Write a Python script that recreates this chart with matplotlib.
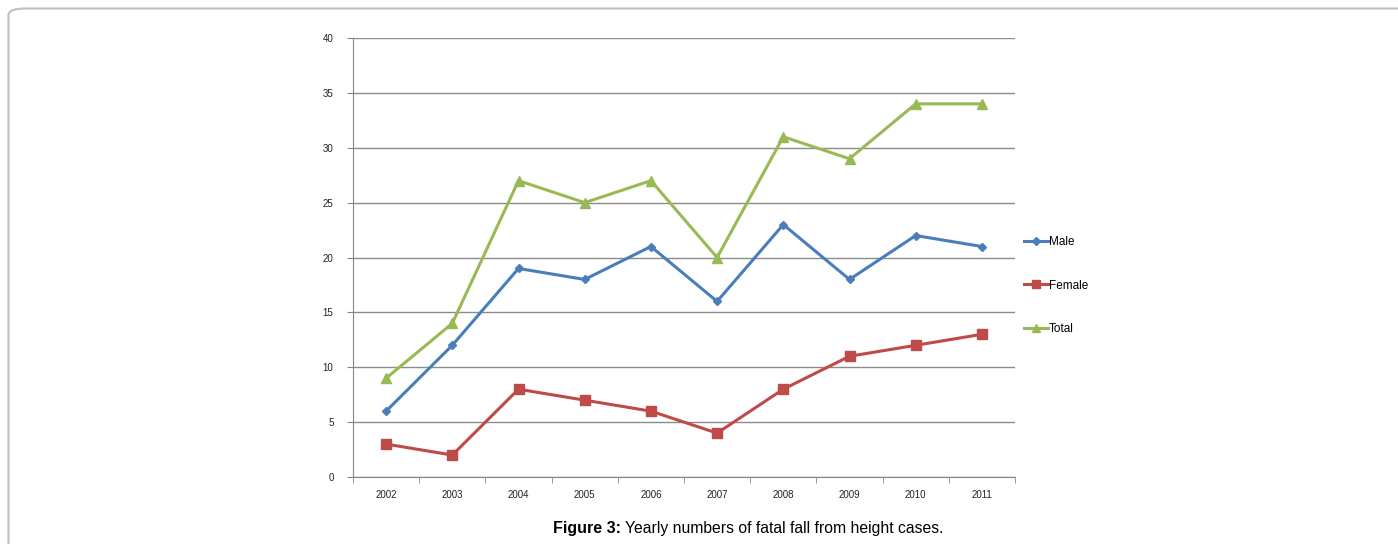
import numpy as np
import matplotlib.pyplot as plt
from matplotlib.patches import FancyBboxPatch

years = ['2002', '2003', '2004', '2005', '2006', '2007', '2008', '2009', '2010', '2011']
male = [6, 12, 19, 18, 21, 16, 23, 18, 22, 21]
female = [3, 2, 8, 7, 6, 4, 8, 11, 12, 13]
total = [9, 14, 27, 25, 27, 20, 31, 29, 34, 34]

plt.rcParams['font.family'] = ['Liberation Sans', 'DejaVu Sans']

fig = plt.figure(figsize=(13.98, 5.44), dpi=100)

# rounded page frame, open to the right and bottom
frame = FancyBboxPatch((8.5 / 1398, -0.2), 1.2, 1.2 - 8.5 / 544,
                       boxstyle='round,pad=0,rounding_size=0.012',
                       transform=fig.transFigure, facecolor='none',
                       edgecolor='#c0c0c0', linewidth=1.5, zorder=0)
fig.patches.append(frame)

ax = fig.add_axes([353 / 1398, 1 - 477 / 544, (1015 - 353) / 1398, (477 - 38) / 544])
x = np.arange(len(years))

ax.plot(x, male, color='#4a7ebb', lw=2.2, marker='D', ms=4.5, label='Male', zorder=3)
ax.plot(x, female, color='#be4b48', lw=2.2, marker='s', ms=6.5, label='Female', zorder=3)
ax.plot(x, total, color='#98b954', lw=2.2, marker='^', ms=6.5, label='Total', zorder=3)

ax.set_xlim(-0.5, len(years) - 0.5)
ax.set_ylim(0, 40)
ax.set_yticks(range(0, 41, 5))
ax.set_xticks(x)
ax.set_xticklabels(years)
ax.set_xticks(np.arange(-0.5, len(years), 1), minor=True)
ax.tick_params(axis='x', which='major', length=0, pad=9, labelsize=7, colors='#222222')
ax.tick_params(axis='x', which='minor', length=4, color='#868686', direction='out')
ax.tick_params(axis='y', length=4, labelsize=7, pad=10, colors='#222222')
ax.tick_params(axis='y', color='#868686')
ax.grid(axis='y', color='#8c8c8c', lw=1)
ax.set_axisbelow(True)
for s in ['top', 'right']:
    ax.spines[s].set_visible(False)
for s in ['left', 'bottom']:
    ax.spines[s].set_color('#868686')

ax.legend(loc='center left', bbox_to_anchor=(0.998, 0.436), frameon=False,
          fontsize=8.5, handlelength=2.0, handletextpad=0.1, labelspacing=2.65,
          markerscale=0.8)

cap_y = 1 - 528 / 544
fig.text(621 / 1398, cap_y, 'Figure 3:', ha='right', va='center', fontsize=11.5,
         fontweight='bold')
fig.text(625 / 1398, cap_y, 'Yearly numbers of fatal fall from height cases.',
         ha='left', va='center', fontsize=11.3)

fig.savefig('out.png', dpi=100)
